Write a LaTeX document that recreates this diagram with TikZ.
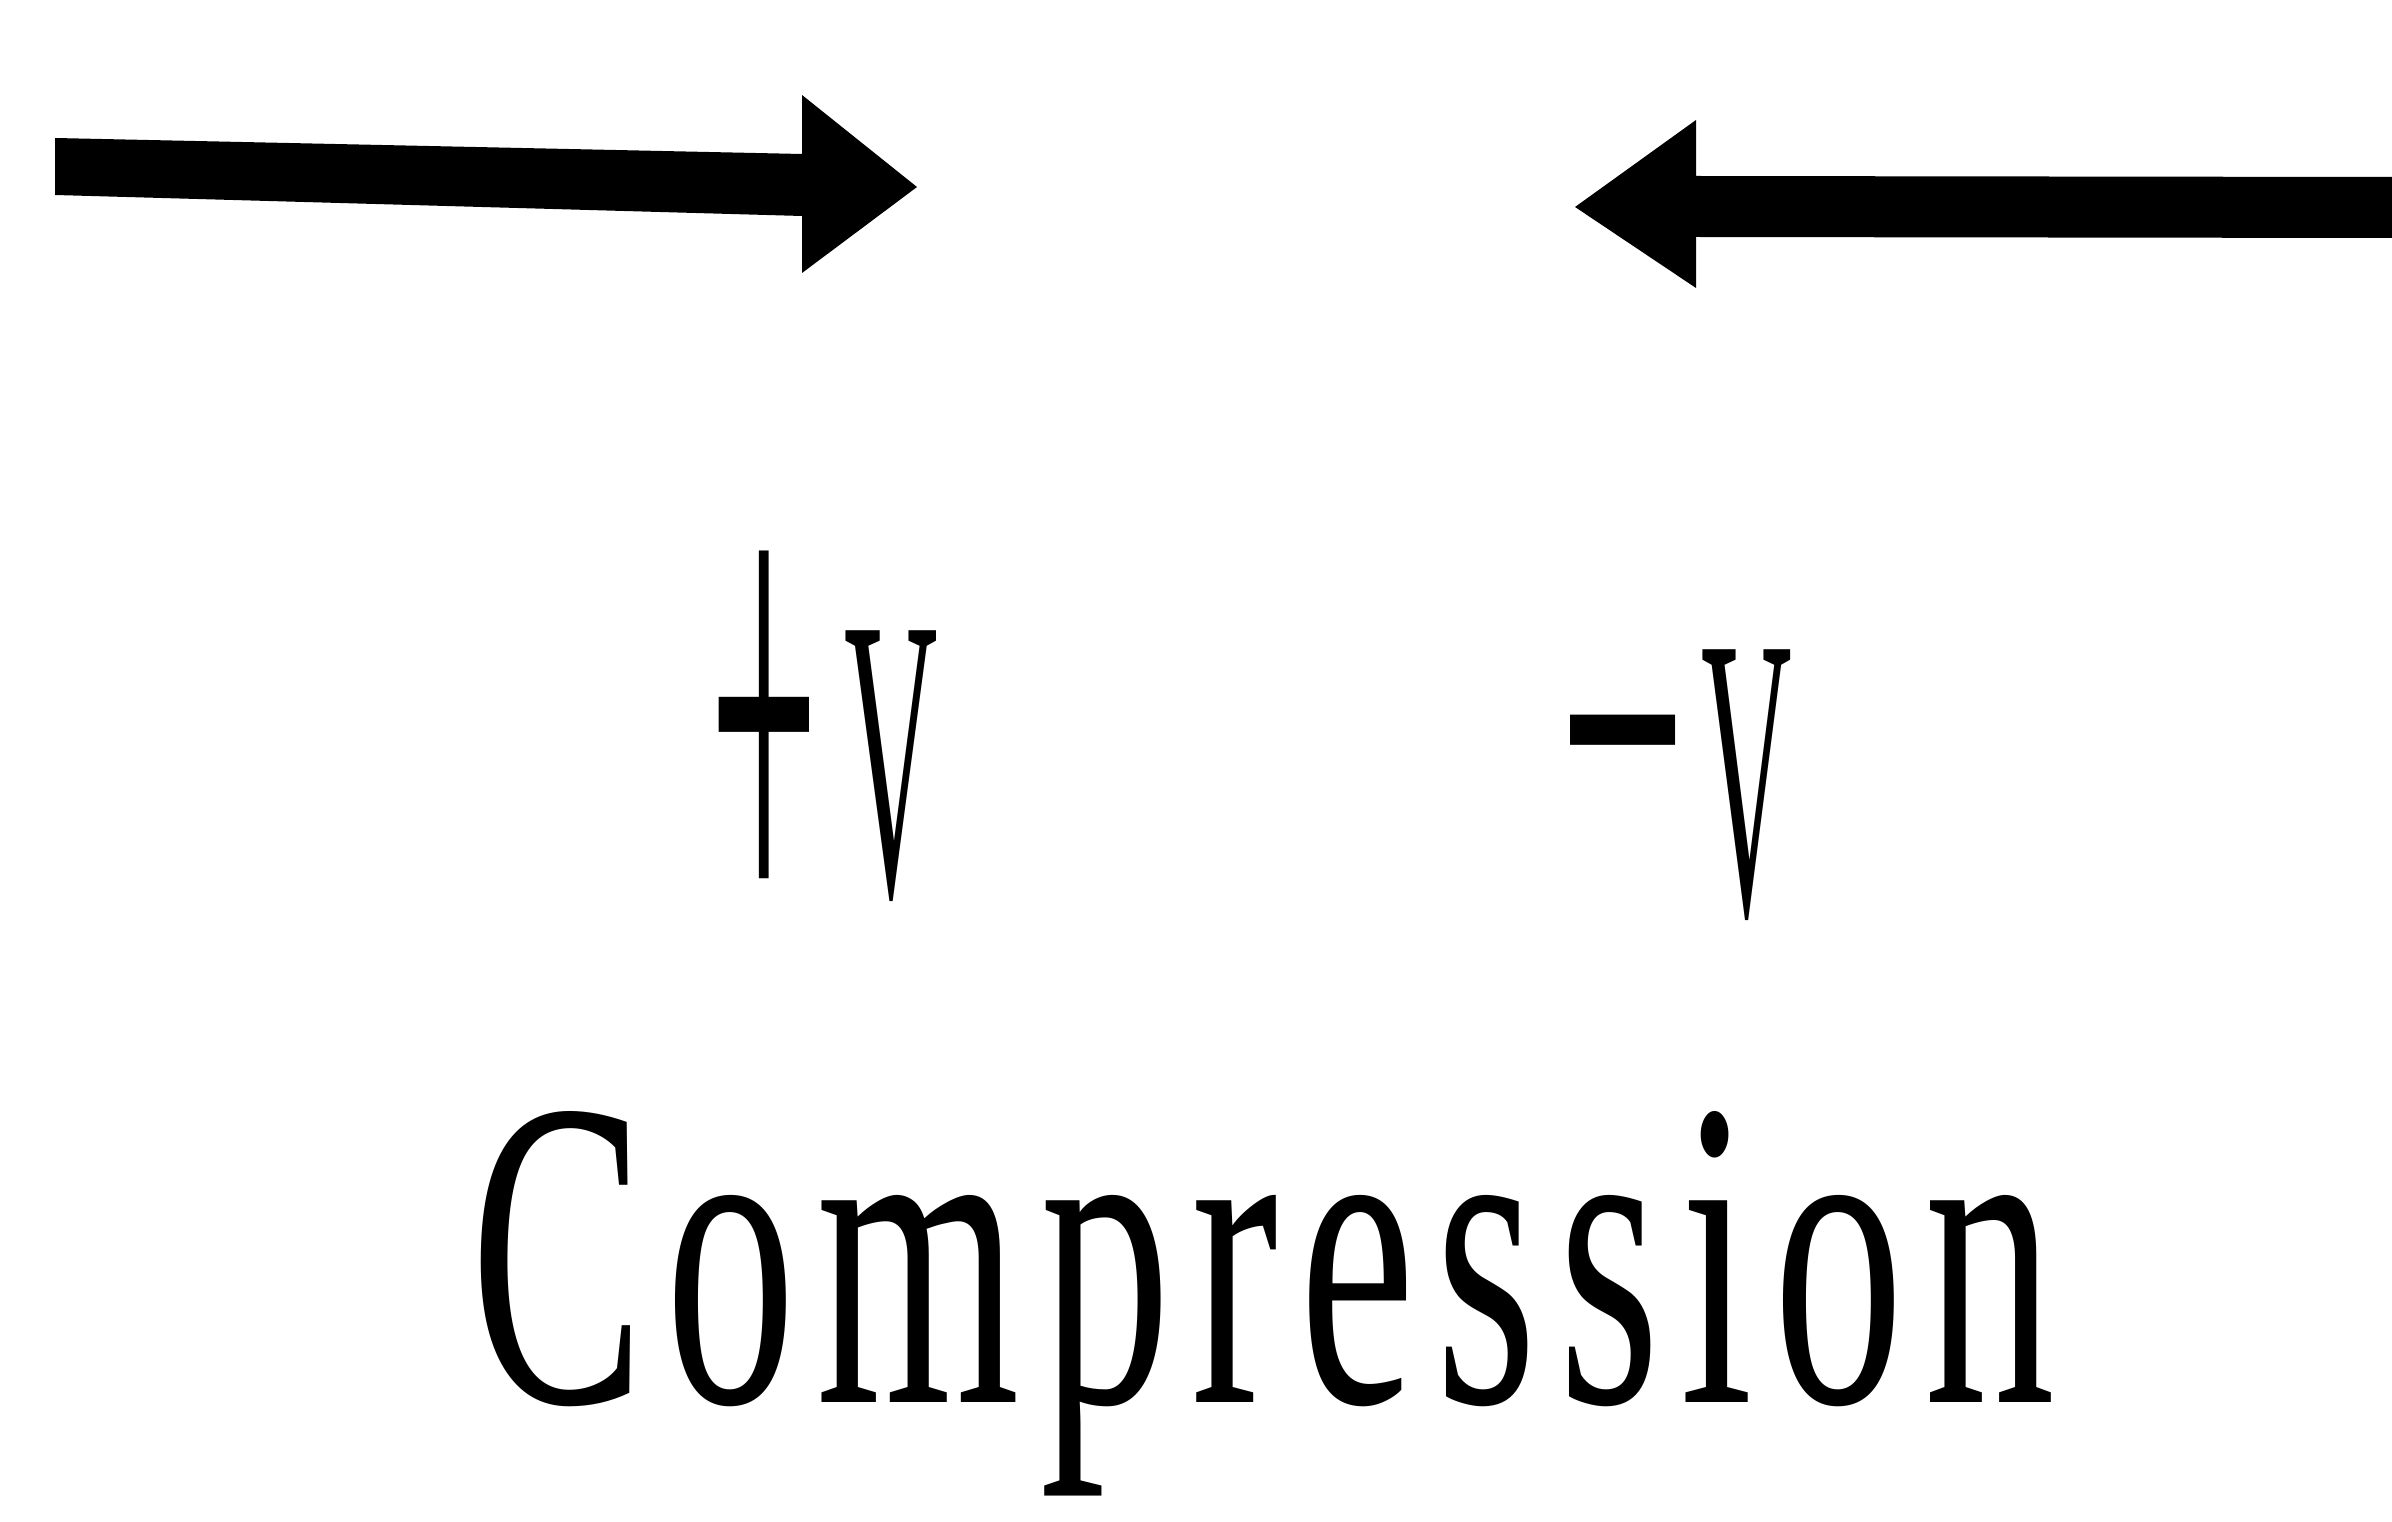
\documentclass[tikz,border=0pt]{standalone}
\usepackage{fontspec}
\usepackage{graphicx}
\setmainfont{Liberation Serif}
\newfontfamily\compfont[LetterSpace=7.8]{Liberation Serif}
\tikzset{
  bigarrow/.style={fill=black, draw=none},
  label/.style={inner sep=0pt, outer sep=0pt, text=black}
}
\begin{document}
\begin{tikzpicture}[x=0.01cm, y=-0.01cm]
\useasboundingbox (0,0) rectangle (2392,1522);
% left arrow (pointing right)
\fill[bigarrow] (55,138) -- (802,154) -- (802,95) -- (917,187) -- (802,273) -- (802,216) -- (55,195) -- cycle;
% right arrow (pointing left)
\fill[bigarrow] (2392,177) -- (1696,176) -- (1696,120) -- (1575,207) -- (1696,288) -- (1696,237) -- (2392,238) -- cycle;
% labels
\node[label, anchor=base west, font=\fontsize{115}{115}\selectfont] (plusv) at (709,895)
  {\raisebox{-0.53cm}{\scalebox{0.48}[1.74]{+}}\hspace{0.26cm}\scalebox{0.32}[1]{V}};
\node[label, anchor=base west, font=\fontsize{115}{115}\selectfont] (minusv) at (1555,914)
  {\raisebox{0.88cm}{-}\hspace{0.12cm}\scalebox{0.31}[1]{V}};
\node[label, anchor=base, font=\fontsize{125}{125}\compfont] (comp) at (1263,1402)
  {\scalebox{0.595}[1]{Compression}};
\end{tikzpicture}
\end{document}
